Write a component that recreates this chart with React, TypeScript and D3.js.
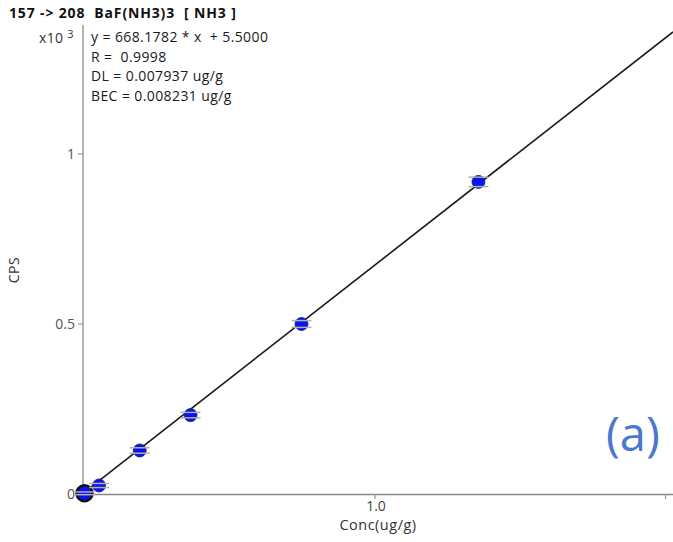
import React from "react";
import * as d3 from "d3";

const concValues = [0, 0.05, 0.19, 0.365, 0.747, 1.356];
const cpsValues = [2, 25, 128, 232, 500, 918];
const errValues = [4, 6, 8, 8, 10, 14];
const xTicks = [1.0, 2.0];
const yTicks = [0, 0.5, 1];
const slope = 668.1782;
const intercept = 5.5;
const annotations = [
  "y = 668.1782 * x  + 5.5000",
  "R =  0.9998",
  "DL = 0.007937 ug/g",
  "BEC = 0.008231 ug/g",
];
const title = "157 -> 208  BaF(NH3)3  [ NH3 ]";

const W = 673;
const H = 542;
const FONT = "'Open Sans', 'Noto Sans', sans-serif";

export default function App() {
  const x = d3.scaleLinear().domain([0, 1]).range([84.5, 375]);
  const y = d3.scaleLinear().domain([0, 1000]).range([494, 154]);
  const xMax = x.invert(W);
  const line = d3
    .line<number>()
    .x((d) => x(d))
    .y((d) => y(slope * d + intercept));
  return (
    <svg
      width={W}
      height={H}
      style={{ position: "absolute", left: 0, top: 0, background: "#fff", whiteSpace: "pre" }}
      fontFamily={FONT}
    >
      <text x={9} y={18} fontSize={14} fontWeight="bold" fill="#111" letterSpacing={0.85} xmlSpace="preserve">
        {title}
      </text>
      <text x={39} y={43} fontSize={14} fill="#333" letterSpacing={0.3}>
        x10
        <tspan dx={4} dy={-5} fontSize={11}>
          3
        </tspan>
      </text>
      {annotations.map((a, i) => (
        <text key={i} x={91} y={42 + i * 19.5} fontSize={14} fill="#1a1a1a" letterSpacing={0.4} xmlSpace="preserve">
          {a}
        </text>
      ))}
      {/* axes */}
      <line x1={83} x2={83} y1={25} y2={495} stroke="#a0a0a0" strokeWidth={1.6} />
      <line x1={83} x2={W} y1={494.5} y2={494.5} stroke="#888" strokeWidth={1.6} />
      {yTicks.map((t) => (
        <g key={t}>
          <line x1={78} x2={83} y1={y(t * 1000)} y2={y(t * 1000)} stroke="#999" strokeWidth={1.2} />
          <text
            x={75}
            y={y(t * 1000) + 5}
            textAnchor="end"
            fontSize={14}
            fill="#555"
          >
            {t === 0 ? "0" : String(t)}
          </text>
        </g>
      ))}
      {xTicks.map((t) => (
        <g key={t}>
          <line x1={x(t)} x2={x(t)} y1={494} y2={499} stroke="#999" strokeWidth={1.2} />
          {t === 1 && (
            <text x={x(t) + 1} y={511} textAnchor="middle" fontSize={14} fill="#444">
              {t.toFixed(1)}
            </text>
          )}
        </g>
      ))}
      <text x={378} y={530} textAnchor="middle" fontSize={14.5} fill="#333" letterSpacing={0.5}>
        Conc(ug/g)
      </text>
      <text
        transform={`translate(19,270) rotate(-90)`}
        textAnchor="middle"
        fontSize={14}
        fill="#333"
        letterSpacing={0.5}
      >
        CPS
      </text>
      {/* calibration line */}
      <path d={line([0, xMax]) || ""} fill="none" stroke="#1a1a1a" strokeWidth={1.6} />
      {/* points */}
      {concValues.map((c, i) => {
        const cx = x(c);
        const cy = y(cpsValues[i]);
        const isBlank = i === 0;
        const r = isBlank ? 8 : 6.5;
        return (
          <g key={i}>
            <circle
              cx={cx}
              cy={cy}
              r={r}
              fill="#0a14f0"
              stroke={isBlank ? "#111" : "#1a1a60"}
              strokeWidth={isBlank ? 2.5 : 0.8}
            />
            <line
              x1={cx - 10}
              x2={cx + 10}
              y1={y(cpsValues[i] + errValues[i])}
              y2={y(cpsValues[i] + errValues[i])}
              stroke="#b0b0b0"
              strokeWidth={1.5}
            />
            <line
              x1={cx - 10}
              x2={cx + 10}
              y1={y(cpsValues[i] - errValues[i])}
              y2={y(cpsValues[i] - errValues[i])}
              stroke="#b0b0b0"
              strokeWidth={1.5}
            />
          </g>
        );
      })}
      <text x={606} y={451} fontSize={47} fill="#4a78d0" fontFamily={FONT}>
        (a)
      </text>
    </svg>
  );
}
